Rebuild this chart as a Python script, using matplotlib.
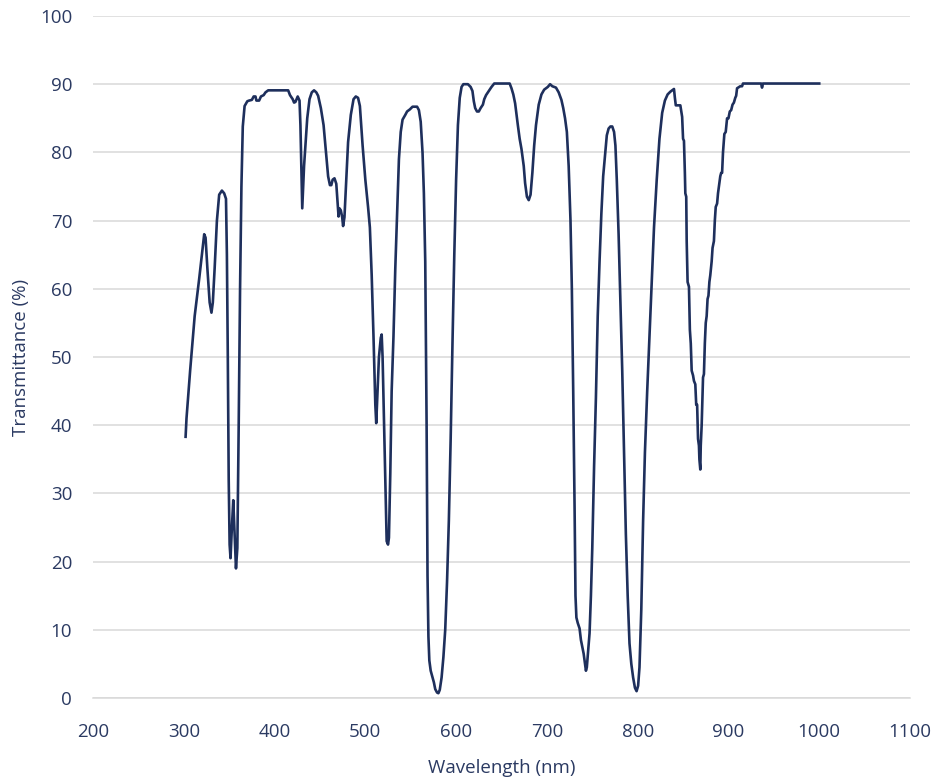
import matplotlib.pyplot as plt

# transmittance spectrum
wavelength = [302, 303, 307, 312, 317, 320, 322.5, 324, 326, 328.5, 330.5, 332, 334, 336.5, 339, 342, 344.5, 346.5,
              347.5, 348.5, 349.5, 350.5, 351.5, 353, 354.5, 356, 357.5, 359, 360.5, 362, 363.5, 365, 367, 370,
              372, 375, 377, 379, 380, 383, 385, 388, 390, 393, 415, 417, 420, 421.5, 423, 425.5, 427.5, 428.5,
              429.5, 430.5, 431.5, 432.5, 434, 436, 438.5, 441, 443.5, 446, 448, 451, 454, 457, 459, 461, 462.5,
              464, 466, 468, 469.5, 470.5, 471.5, 473, 474.5, 475.5, 477, 479, 481, 484, 487, 489.5, 492, 494,
              497, 500, 503, 505, 507, 509, 511, 512, 513.5, 515, 517, 518, 519, 520, 522, 523.5, 525, 526, 527.5,
              529, 531, 533, 535, 537, 539, 541, 544, 546, 549, 552, 557, 559, 561, 563, 564.5, 566, 567.5, 568.5,
              569.5, 570.5, 572, 574, 575.5, 577, 579, 580.5, 582, 584, 586, 588, 590, 592, 594, 596, 598, 600,
              602, 604, 606, 608, 613, 616, 618, 619.5, 621, 623, 625, 627, 629.5, 631, 633, 636, 639, 642, 659,
              661, 663, 665, 668, 670, 672, 674.5, 676, 678, 680, 682, 684, 686, 688, 691, 694, 697, 701, 703.5,
              706, 710, 713, 716, 718, 720, 722, 724, 726, 727.5, 729, 730.5, 731.5, 732.5, 734, 736, 737.5, 739,
              740.5, 742, 743, 744, 745.5, 747, 748.5, 750, 752, 754, 756, 758, 760, 762, 764, 766, 768, 770, 772,
              774, 775.5, 777, 779, 781, 783, 785, 787, 789, 791, 793, 795, 797, 798.8, 800.5, 802, 804, 806, 808,
              810.5, 813, 815.5, 818, 821, 824, 827, 830, 833, 836, 838, 840, 841, 842, 847, 849, 850, 851, 852,
              852.5, 853.5, 854, 855, 856.5, 857.5, 858.5, 859.5, 861, 862, 863.5, 864.5, 865.5, 866.5, 867.5,
              868, 869, 869.5, 870.5, 871, 872, 873, 874, 875, 876, 877, 878, 879, 880, 881.5, 882.5, 884, 885,
              886, 887.5, 888.5, 890, 891, 892, 893, 894, 895.5, 897, 898.5, 900, 901.5, 903, 904.5, 906, 907.5,
              908.5, 909.5, 913, 915, 916, 936, 937, 938, 1000]
transmittance = [38.3, 41, 48, 56, 61.5, 65, 68, 67.5, 63, 58, 56.5, 58, 63, 70, 73.8, 74.4, 74, 73.2,
                 65, 50, 32, 22.5, 20.5, 25, 29, 24, 19, 22, 40, 60, 75, 83.8, 86.8, 87.5,
                 87.6, 87.7, 88.2, 88.2, 87.6, 87.6, 88.2, 88.4, 88.8, 89.1, 89.1, 88.4, 87.8, 87.3, 87.4, 88.2, 87.6, 84,
                 78, 71.8, 75, 78, 81, 85, 87.8, 88.8, 89.1, 88.8, 88.3, 86.5, 84, 79.5, 76.5, 75.2, 75.2,
                 76, 76.2, 75.4, 72.5, 70.6, 71.8, 71.5, 70.5, 69.2, 70.5, 76, 81.5, 85.5, 87.8, 88.2, 88, 86.8,
                 81, 76, 72, 69, 62, 53, 43, 40.3, 45, 50, 52.8, 53.3, 50, 44, 32, 23, 22.5, 23.5, 33,
                 45, 53, 63, 71, 79, 83, 84.8, 85.5, 86, 86.3, 86.7, 86.7, 86.2, 84.5, 80, 74, 64, 40, 18,
                 9, 5.5, 4, 3, 2.3, 1.3, 0.8, 0.7, 1.2, 3, 6, 10, 17, 26, 38, 52, 65, 76,
                 84, 88, 89.6, 90, 90, 89.6, 89, 87.5, 86.5, 86, 86, 86.5, 87, 87.8, 88.4, 89, 89.6, 90.1, 90.1,
                 89.4, 88.5, 87.2, 84, 82, 80.5, 78, 75.5, 73.5, 73, 73.8, 77, 81, 84, 87, 88.5, 89.2, 89.6, 90,
                 89.7, 89.5, 88.8, 87.7, 86.5, 85, 83, 78, 70, 60, 45, 28, 15, 11.8, 11, 10.2, 8.5, 7.5,
                 6.5, 5, 4, 4.5, 7, 9.5, 15, 22, 34, 44, 56, 64, 71, 76.5, 79.5, 82.5, 83.5, 83.8, 83.8,
                 83, 81, 76, 68, 58, 48, 36, 24, 15, 8, 5, 3, 1.5, 1, 1.8, 4.5, 13, 26, 36,
                 45, 53, 61, 69, 76, 82, 85.8, 87.6, 88.5, 88.9, 89.1, 89.3, 88, 86.9, 86.9, 85.2, 82, 81.7, 77,
                 74, 73.5, 67, 61, 60.3, 54, 52, 48, 47.3, 46.5, 46, 43, 43, 38, 37,
                 35, 33.5, 37, 40, 42.5, 47, 47.5, 52, 55, 56, 58.5, 59, 61, 62, 64, 66, 67, 70,
                 72, 72.5, 74, 75.5, 76.5, 77, 77, 80, 82.7, 83, 85, 85, 86, 86.2, 87, 87.3, 88,
                 88.3, 89.4, 89.7, 89.7, 90.1, 90.1, 89.5, 90.1, 90.1]

navy = "#1e2f5c"
text_col = "#2b3a62"

plt.rcParams['font.family'] = ['Open Sans', 'DejaVu Sans']

fig = plt.figure(figsize=(9.31, 7.78), dpi=100)
ax = fig.add_axes([93 / 931, 80 / 778, 817 / 931, 682 / 778])

ax.plot(wavelength, transmittance, color=navy, linewidth=1.9)

ax.set_xlim(200, 1100)
ax.set_ylim(0, 100)
ax.set_xticks(range(200, 1101, 100))
ax.set_yticks(range(0, 101, 10))
ax.grid(axis="y", color="#d9d9d9", linewidth=1.1)
ax.set_axisbelow(True)

for s in ["top", "right", "left"]:
    ax.spines[s].set_visible(False)
ax.spines["bottom"].set_color("#d9d9d9")
ax.spines["bottom"].set_linewidth(1.1)

ax.tick_params(length=0, labelsize=13.5, labelcolor=text_col)
ax.tick_params(axis="x", pad=18)
ax.tick_params(axis="y", pad=15)

ax.set_xlabel("Wavelength (nm)", fontsize=13.5, color=text_col, labelpad=13)
ax.set_ylabel("Transmittance (%)", fontsize=13.5, color=text_col, labelpad=7)

plt.savefig("out.png", dpi=100)
